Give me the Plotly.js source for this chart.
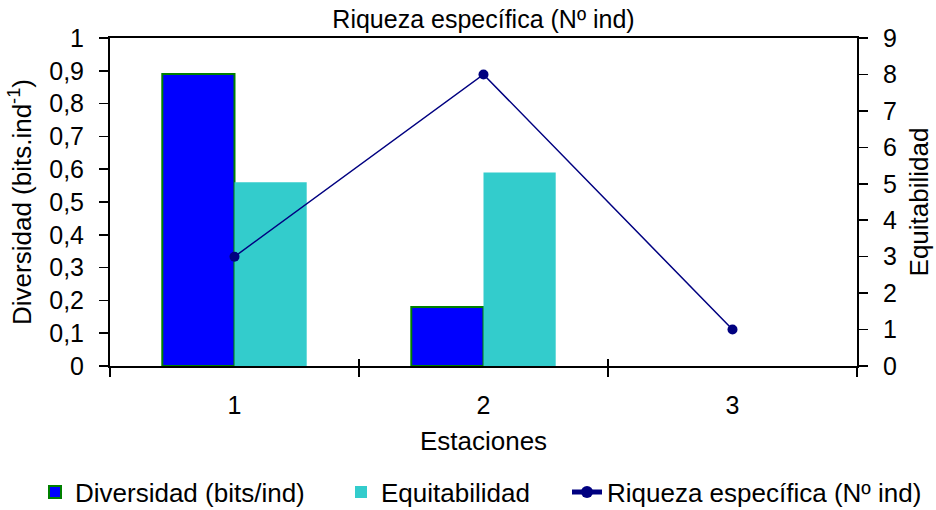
<!DOCTYPE html>
<html>
<head>
<meta charset="utf-8">
<script src="https://cdn.plot.ly/plotly-3.0.1.min.js"></script>
<style>html,body{margin:0;padding:0;background:#fff;}#chart{width:936px;height:510px;}</style>
</head>
<body>
<div id="chart"></div>
<script>
// ---- data ----
var estaciones = ['1', '2', '3'];
var diversidad = [0.89, 0.18, 0];
var equitabilidad = [0.56, 0.59, 0];
var riqueza = [3, 8, 1];
var leftTicks = [0, 0.1, 0.2, 0.3, 0.4, 0.5, 0.6, 0.7, 0.8, 0.9, 1];
var leftTickText = ['0', '0,1', '0,2', '0,3', '0,4', '0,5', '0,6', '0,7', '0,8', '0,9', '1'];

var FONT = 'Liberation Sans, Arial, sans-serif';
var FS = 25;   // tick labels
var FT = 26;   // titles and legend

var traces = [
  {
    type: 'bar', name: 'Diversidad (bits/ind)', x: estaciones, y: diversidad,
    xaxis: 'x', yaxis: 'y', legend: 'legend',
    marker: {color: '#0000FF', line: {color: '#008000', width: [2, 2, 0]}}
  },
  {
    type: 'bar', name: 'Equitabilidad', x: estaciones, y: equitabilidad,
    xaxis: 'x', yaxis: 'y', legend: 'legend2',
    marker: {color: '#33CCCC', line: {width: 0}}
  },
  {
    type: 'scatter', mode: 'lines+markers', name: 'Riqueza específica (Nº ind)',
    x: estaciones, y: riqueza, xaxis: 'x2', yaxis: 'y2', legend: 'legend3',
    line: {color: '#000080', width: 1.5},
    marker: {color: '#000080', size: 10, symbol: 'circle'}
  }
];

function legendAt(px) {
  return {
    orientation: 'h', xref: 'container', x: px / 936, xanchor: 'left',
    yref: 'container', y: 1 - 492 / 510, yanchor: 'middle',
    font: {family: FONT, size: FT, color: '#000'},
    bgcolor: 'rgba(0,0,0,0)', itemwidth: 30, itemsizing: 'constant'
  };
}

var layout = {
  width: 936, height: 510,
  margin: {l: 110, r: 79, t: 38, b: 144},
  paper_bgcolor: '#fff', plot_bgcolor: '#fff',
  font: {family: FONT, size: FS, color: '#000'},
  showlegend: true,
  barmode: 'group', bargap: 0.42, bargroupgap: 0,
  title: {
    text: 'Riqueza específica (Nº ind)',
    font: {family: FONT, size: 25, color: '#000'},
    x: 0.5, xref: 'paper', xanchor: 'center',
    y: 1 - 19 / 510, yref: 'container', yanchor: 'middle'
  },
  xaxis: {
    type: 'category', range: [-0.5, 2.5],
    showline: true, linecolor: '#000', linewidth: 2, mirror: true,
    ticks: 'outside', ticklen: 9, tickwidth: 1.5, tickcolor: '#000',
    tickson: 'boundaries', ticklabelstandoff: 16,
    showgrid: false, zeroline: false, fixedrange: true,
    tickfont: {family: FONT, size: FS, color: '#000'},
    title: {text: 'Estaciones', font: {family: FONT, size: FT, color: '#000'}, standoff: 14}
  },
  xaxis2: {
    visible: true, overlaying: 'x', anchor: 'y', side: 'bottom', type: 'category', range: [-0.5, 2.5],
    tickson: 'boundaries', ticks: 'inside', ticklen: 7, tickwidth: 1.5, tickcolor: '#000',
    showticklabels: false, showgrid: false, zeroline: false, showline: false, fixedrange: true
  },
  yaxis: {
    range: [0, 1], tickvals: leftTicks, ticktext: leftTickText,
    showline: true, linecolor: '#000', linewidth: 2,
    ticks: 'outside', ticklen: 9, tickwidth: 1.5, tickcolor: '#000',
    ticklabelstandoff: 10,
    showgrid: false, zeroline: false, fixedrange: true,
    tickfont: {family: FONT, size: FS, color: '#000'},
    title: {text: 'Diversidad (bits.ind<sup>-1</sup>)', font: {family: FONT, size: FT, color: '#000'}, standoff: 10}
  },
  yaxis2: {
    overlaying: 'y', side: 'right', anchor: 'x', range: [0, 9], dtick: 1,
    showline: true, linecolor: '#000', linewidth: 2,
    ticks: 'outside', ticklen: 9, tickwidth: 1.5, tickcolor: '#000',
    ticklabelstandoff: 10,
    showgrid: false, zeroline: false, fixedrange: true,
    tickfont: {family: FONT, size: FS, color: '#000'},
    title: {text: 'Equitabilidad', font: {family: FONT, size: FT, color: '#000'}, standoff: 14}
  },
  yaxis3: {
    visible: true, overlaying: 'y', side: 'left', anchor: 'x', range: [0, 1], tickvals: leftTicks,
    ticks: 'inside', ticklen: 8, tickwidth: 1.5, tickcolor: '#000',
    showticklabels: false, showgrid: false, zeroline: false, showline: false, fixedrange: true
  },
  yaxis4: {
    visible: true, overlaying: 'y', side: 'right', anchor: 'x', range: [0, 9], dtick: 1,
    ticks: 'inside', ticklen: 8, tickwidth: 1.5, tickcolor: '#000',
    showticklabels: false, showgrid: false, zeroline: false, showline: false, fixedrange: true
  },
  legend: legendAt(35),
  legend2: legendAt(341),
  legend3: legendAt(567)
};

Plotly.newPlot('chart', traces, layout, {staticPlot: true, displayModeBar: false});
</script>
</body>
</html>
